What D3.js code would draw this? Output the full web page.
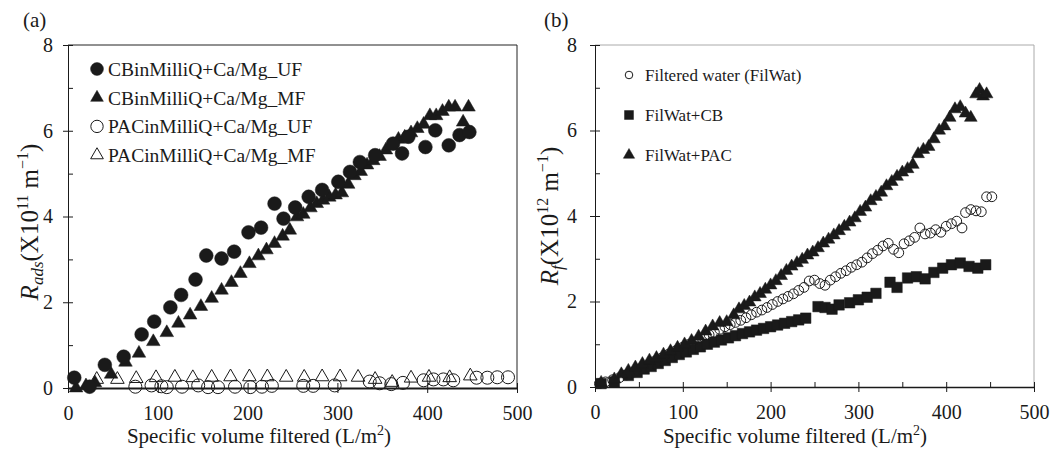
<!doctype html>
<html>
<head>
<meta charset="utf-8"/>
<style>
  body { margin: 0; background: #fff; }
  svg, svg text { font-family: 'Liberation Serif', 'Times New Roman', Times, 'DejaVu Serif', serif; }
</style>
</head>
<body>
<script src="https://cdn.jsdelivr.net/npm/d3@7/dist/d3.min.js"></script>
<script>
// ---- panel (a) data ----
const aCbUfX = [7, 24, 41, 62, 82, 96, 114, 126, 142, 154, 171, 185, 201, 215, 230, 240, 253, 268, 283, 301, 314, 325, 342, 362, 372, 379, 398, 409, 424, 436, 447];
const aCbUfY = [0.24, 0.03, 0.54, 0.73, 1.25, 1.55, 1.88, 2.17, 2.53, 3.09, 3.02, 3.18, 3.63, 3.74, 4.30, 3.95, 4.21, 4.46, 4.62, 4.81, 5.04, 5.27, 5.43, 5.70, 5.47, 5.86, 5.62, 6.01, 5.66, 5.90, 5.97];

const aCbMfX = [9, 20, 30, 48, 64, 79, 95, 110, 123, 136, 148, 160, 171, 182, 192, 202, 212, 221, 230, 239, 247, 255, 262, 270, 277, 284, 291, 298, 305, 312, 319, 326, 333, 340, 347, 354, 361, 368, 375, 382, 389, 396, 403, 410, 417, 424, 431, 440, 446];
const aCbMfY = [0.0, 0.05, 0.12, 0.32, 0.6, 0.81, 1.08, 1.29, 1.51, 1.7, 1.9, 2.09, 2.28, 2.46, 2.67, 2.9, 3.08, 3.22, 3.37, 3.54, 3.68, 3.99, 4.05, 4.2, 4.3, 4.38, 4.45, 4.5, 4.55, 4.75, 4.95, 5.05, 5.2, 5.3, 5.4, 5.55, 5.65, 5.8, 5.85, 5.95, 6.05, 6.15, 6.35, 6.35, 6.45, 6.55, 6.55, 6.2, 6.55];

const aPacUfX = [75, 93, 104, 110, 127, 145, 156, 167, 186, 203, 216, 227, 262, 273, 297, 336, 347, 360, 373, 396, 407, 418, 429, 455, 467, 478, 490];
const aPacUfY = [0.03, 0.06, 0.04, 0.02, 0.03, 0.06, 0.02, 0.02, 0.03, 0.02, 0.03, 0.05, 0.05, 0.05, 0.06, 0.15, 0.11, 0.09, 0.12, 0.18, 0.2, 0.2, 0.18, 0.24, 0.24, 0.25, 0.25];

const aPacMfX = [32, 55, 76, 98, 119, 139, 160, 181, 202, 222, 243, 263, 283, 303, 323, 342, 361, 382, 402, 425, 448];
const aPacMfY = [0.2, 0.2, 0.22, 0.24, 0.25, 0.24, 0.25, 0.26, 0.26, 0.26, 0.25, 0.25, 0.26, 0.26, 0.25, 0.2, 0.13, 0.23, 0.25, 0.24, 0.28];

const aLegend = ['CBinMilliQ+Ca/Mg_UF', 'CBinMilliQ+Ca/Mg_MF', 'PACinMilliQ+Ca/Mg_UF', 'PACinMilliQ+Ca/Mg_MF'];

// ---- panel (b) data ----
const bWatX = [5, 12, 20, 28, 36, 44, 52, 60, 68, 76, 84, 92, 100, 106, 112, 118, 124, 130, 136, 142, 148, 154, 160, 166, 172, 178, 184, 190, 196, 202, 208, 214, 220, 226, 232, 238, 244, 250, 256, 262, 268, 274, 280, 286, 292, 298, 304, 310, 316, 322, 328, 334, 340, 346, 352, 358, 364, 370, 376, 382, 388, 394, 400, 406, 412, 418, 422, 428, 434, 440, 446, 452];
const bWatY = [0.08, 0.12, 0.17, 0.22, 0.28, 0.35, 0.43, 0.51, 0.6, 0.68, 0.77, 0.85, 0.93, 0.99, 1.05, 1.1, 1.16, 1.22, 1.28, 1.35, 1.41, 1.46, 1.51, 1.56, 1.62, 1.69, 1.75, 1.8, 1.86, 1.93, 2.0, 2.06, 2.12, 2.18, 2.26, 2.33, 2.48, 2.5, 2.42, 2.38, 2.5, 2.58, 2.66, 2.72, 2.8, 2.86, 2.92, 3.02, 3.12, 3.2, 3.3, 3.36, 3.22, 3.14, 3.35, 3.42, 3.5, 3.72, 3.58, 3.6, 3.68, 3.62, 3.76, 3.82, 3.88, 3.72, 4.08, 4.15, 4.12, 4.1, 4.45, 4.45];

const bCbX = [7, 22, 38, 48, 56, 64, 72, 80, 88, 96, 104, 112, 120, 128, 136, 144, 152, 160, 168, 176, 184, 192, 200, 208, 216, 224, 232, 240, 254, 262, 270, 278, 290, 300, 310, 320, 336, 344, 356, 366, 376, 386, 396, 406, 416, 426, 436, 445];
const bCbY = [0.08, 0.12, 0.27, 0.34, 0.42, 0.48, 0.55, 0.62, 0.69, 0.76, 0.82, 0.88, 0.94, 1.0, 1.05, 1.1, 1.15, 1.2, 1.25, 1.29, 1.33, 1.37, 1.41, 1.45, 1.49, 1.53, 1.57, 1.61, 1.88, 1.86, 1.82, 1.92, 1.97, 2.04, 2.1, 2.19, 2.45, 2.33, 2.55, 2.58, 2.53, 2.68, 2.78, 2.86, 2.9, 2.82, 2.78, 2.86];

const bPacX = [7, 22, 30, 38, 46, 54, 62, 70, 78, 86, 94, 102, 110, 118, 126, 134, 142, 150, 158, 164, 170, 176, 182, 188, 194, 200, 206, 212, 218, 224, 230, 236, 242, 248, 254, 260, 266, 272, 278, 284, 290, 296, 302, 308, 314, 320, 326, 332, 338, 344, 350, 356, 362, 368, 374, 380, 386, 392, 398, 404, 410, 416, 422, 428, 434, 438, 442, 446];
const bPacY = [0.1, 0.18, 0.3, 0.38, 0.46, 0.54, 0.62, 0.68, 0.76, 0.84, 0.92, 1.0, 1.08, 1.18, 1.3, 1.42, 1.5, 1.52, 1.68, 1.82, 1.9, 1.98, 2.1, 2.18, 2.28, 2.38, 2.48, 2.6, 2.72, 2.82, 2.9, 2.98, 3.08, 3.15, 3.25, 3.36, 3.45, 3.55, 3.65, 3.75, 3.85, 3.95, 4.1, 4.2, 4.35, 4.45, 4.55, 4.7, 4.8, 4.92, 5.02, 5.1, 5.2, 5.45, 5.55, 5.62, 5.8, 6.0, 6.1, 6.3, 6.5, 6.55, 6.4, 6.3, 6.85, 6.95, 6.8, 6.85];

const bLegend = ['Filtered water (FilWat)', 'FilWat+CB', 'FilWat+PAC'];

const xTicks = [0, 100, 200, 300, 400, 500];
const xMinorB = [50, 150, 250, 350, 450];
const yTicks = [0, 2, 4, 6, 8];
const yMinor = [1, 3, 5, 7];

// ---- layout ----
const ink = '#1a1a1a';
const serif = 'Liberation Serif, Times New Roman, Times, DejaVu Serif, serif';
const svg = d3.select('body').append('svg')
  .attr('width', 1057).attr('height', 453)
  .attr('font-family', serif);

const xa = d3.scaleLinear().domain([0, 500]).range([68, 517]);
const ya = d3.scaleLinear().domain([0, 8]).range([388, 45]);
const xb = d3.scaleLinear().domain([0, 500]).range([595, 1034]);
const yb = d3.scaleLinear().domain([0, 8]).range([387, 45]);

const zip = (xs, ys) => xs.map((x, i) => [x, ys[i]]);

function axes(x, y, frameColor, xMinor, yPad, xWidth) {
  const g = svg.append('g');
  const [x0, x1] = x.range();
  const [y0, y1] = y.range();

  g.append('line').attr('x1', x0).attr('x2', x1).attr('y1', y1).attr('y2', y1)
    .attr('stroke', frameColor).attr('stroke-width', 1);
  g.append('line').attr('x1', x1).attr('x2', x1).attr('y1', y1).attr('y2', y0)
    .attr('stroke', frameColor).attr('stroke-width', 1);

  const ya = g.append('g').attr('transform', `translate(${x0},0)`)
    .call(d3.axisLeft(y).tickValues(yTicks).tickSize(5).tickSizeOuter(0).tickPadding(yPad).tickFormat(d3.format('d')));
  ya.selectAll('.tick line').attr('x1', 5);
  g.append('g').attr('transform', `translate(${x0},0)`)
    .call(d3.axisLeft(y).tickValues(yMinor).tickSize(-5).tickFormat(''))
    .call(s => s.select('.domain').remove());

  const xa = g.append('g').attr('transform', `translate(0,${y0})`)
    .call(d3.axisBottom(x).tickValues(xTicks).tickSize(5).tickSizeOuter(0).tickPadding(13).tickFormat(d3.format('d')));
  xa.selectAll('.tick line').attr('y1', -5);
  xa.select('.domain').attr('stroke-width', xWidth);
  if (xMinor) {
    g.append('g').attr('transform', `translate(0,${y0})`)
      .call(d3.axisBottom(x).tickValues(xMinor).tickSize(-5).tickFormat(''))
      .call(s => s.select('.domain').remove());
  }

  g.selectAll('g').attr('font-family', serif).attr('font-size', 20);
  g.selectAll('.tick text').attr('fill', ink);
  g.selectAll('.domain, .tick line').attr('stroke', ink);
}

axes(xa, ya, '#222', null, 10, 1.8);
axes(xb, yb, '#aaa', xMinorB, 13, 1.3);

function marks(x, y, data, type, size, filled) {
  svg.append('g').selectAll('path')
    .data(data)
    .join('path')
    .attr('transform', d => `translate(${x(d[0])},${y(d[1])})`)
    .attr('d', d3.symbol().type(type).size(size))
    .attr('fill', filled ? ink : 'none')
    .attr('stroke', ink)
    .attr('stroke-width', filled ? 0.5 : 1);
}

// panel (a)
marks(xa, ya, zip(aPacMfX, aPacMfY), d3.symbolTriangle, 80, false);
marks(xa, ya, zip(aPacUfX, aPacUfY), d3.symbolCircle, 133, false);
marks(xa, ya, zip(aCbMfX, aCbMfY), d3.symbolTriangle, 80, true);
marks(xa, ya, zip(aCbUfX, aCbUfY), d3.symbolCircle, 150, true);

// panel (b)
marks(xb, yb, zip(bCbX, bCbY), d3.symbolSquare, 110, true);
marks(xb, yb, zip(bPacX, bPacY), d3.symbolTriangle, 70, true);
marks(xb, yb, zip(bWatX, bWatY), d3.symbolCircle, 75, false);

// legends
const legA = [
  [d3.symbolCircle, 130, true], [d3.symbolTriangle, 70, true],
  [d3.symbolCircle, 120, false], [d3.symbolTriangle, 70, false]
];
aLegend.forEach((name, i) => {
  const yy = 69 + i * 28.7;
  svg.append('path').attr('transform', `translate(97,${yy})`)
    .attr('d', d3.symbol().type(legA[i][0]).size(legA[i][1]))
    .attr('fill', legA[i][2] ? ink : 'none').attr('stroke', ink).attr('stroke-width', legA[i][2] ? 0.5 : 1);
  svg.append('text').attr('x', 108).attr('y', yy).attr('dy', '0.35em')
    .attr('font-size', 19.5).attr('fill', ink).text(name);
});

const legB = [[d3.symbolCircle, 45, false], [d3.symbolSquare, 80, true], [d3.symbolTriangle, 55, true]];
bLegend.forEach((name, i) => {
  const yy = 75 + i * 40;
  svg.append('path').attr('transform', `translate(629,${yy})`)
    .attr('d', d3.symbol().type(legB[i][0]).size(legB[i][1]))
    .attr('fill', legB[i][2] ? ink : 'none').attr('stroke', ink).attr('stroke-width', legB[i][2] ? 0.5 : 1);
  svg.append('text').attr('x', 645).attr('y', yy).attr('dy', '0.35em')
    .attr('font-size', 17).attr('fill', ink).text(name);
});

// titles
function xTitle(cx) {
  const t = svg.append('text').attr('x', cx).attr('y', 443)
    .attr('text-anchor', 'middle').attr('font-size', 21).attr('fill', ink);
  t.append('tspan').text('Specific volume filtered (L/m');
  t.append('tspan').attr('font-size', 14).attr('dy', -8).text('2');
  t.append('tspan').attr('dy', 8).text(')');
}
xTitle(259);
xTitle(795);

function yTitle(bx, cy, sub, exp) {
  const t = svg.append('text').attr('transform', `translate(${bx},${cy}) rotate(-90)`)
    .attr('text-anchor', 'middle').attr('font-size', 25).attr('fill', ink);
  t.append('tspan').attr('font-style', 'italic').text('R');
  t.append('tspan').attr('font-style', 'italic').attr('font-size', 17).attr('dy', 5).text(sub);
  t.append('tspan').attr('dy', -5).text('(X10');
  t.append('tspan').attr('font-size', 16).attr('dy', -10).text(exp);
  t.append('tspan').attr('dy', 10).text(' m');
  t.append('tspan').attr('font-size', 16).attr('dy', -10).text('\u22121');
  t.append('tspan').attr('dy', 10).text(')');
}
yTitle(38, 222, 'ads', '11');
yTitle(558, 216, 'f', '12');

svg.append('text').attr('x', 23).attr('y', 27).attr('font-size', 21).attr('fill', ink).text('(a)');
svg.append('text').attr('x', 544).attr('y', 27).attr('font-size', 21).attr('fill', ink).text('(b)');
</script>
</body>
</html>
